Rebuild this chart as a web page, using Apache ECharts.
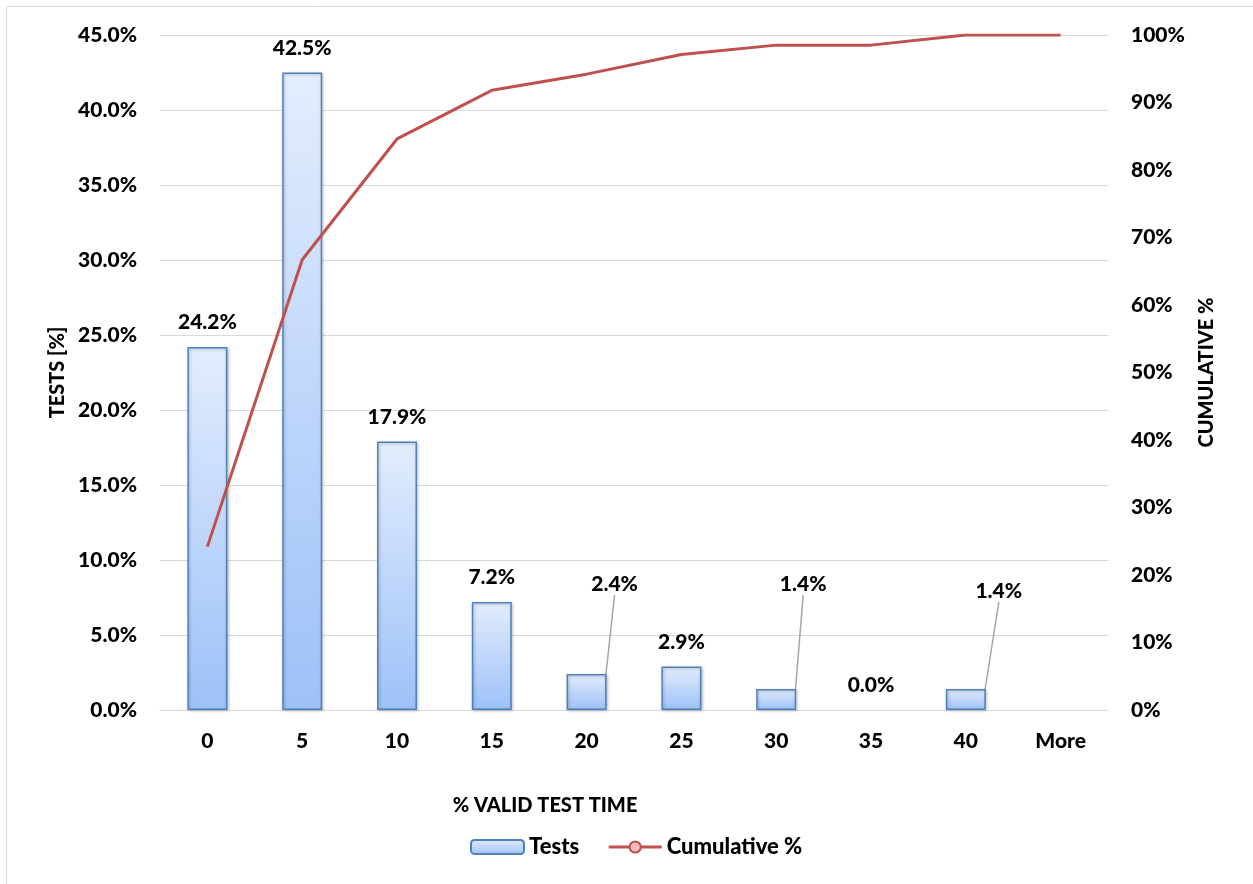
<!DOCTYPE html>
<html>
<head>
<meta charset="utf-8">
<script src="https://cdn.jsdelivr.net/npm/echarts@6/dist/echarts.min.js"></script>
<style>
  html, body { margin: 0; padding: 0; background: #ffffff; }
  #chart { width: 1253px; height: 884px; }
</style>
</head>
<body>
<div id="chart"></div>
<script>
// Histogram bins of valid test time (%)
var categories = ['0', '5', '10', '15', '20', '25', '30', '35', '40', 'More'];
// Share of tests in each bin (%)
var testsPct = [24.2, 42.5, 17.9, 7.2, 2.4, 2.9, 1.4, 0.0, 1.4, null];
// Running total of the share (%)
var cumulativePct = [24.2, 66.7, 84.6, 91.8, 94.2, 97.1, 98.5, 98.5, 100, 100];
// Left and right axis ranges
var leftTicks = { min: 0, max: 45, step: 5 };
var rightTicks = { min: 0, max: 100, step: 10 };

// Small bars whose value labels are pulled up with a leader line
var calloutOffsets = { 4: [28, -65], 6: [27, -80], 8: [33, -73] };

var FONT = 'Lato, "Open Sans", sans-serif';
var WEIGHT = 900;
var TEXT_SIZE = 21;
var barFill = new echarts.graphic.LinearGradient(0, 0, 0, 1, [
  { offset: 0, color: '#e3edfd' },
  { offset: 1, color: '#9dc1f8' }
]);

// Bar items: leader lines only on the callout labels, no outline on empty bins
var barItems = testsPct.map(function (v, i) {
  return {
    value: v,
    labelLine: { show: !!calloutOffsets[i] },
    itemStyle: v === 0 ? { borderWidth: 0, shadowBlur: 0, shadowOffsetX: 0, shadowOffsetY: 0 } : {}
  };
});

var chart = echarts.init(document.getElementById('chart'), null, { renderer: 'canvas' });

chart.setOption({
  backgroundColor: '#ffffff',
  animation: false,
  textStyle: { fontFamily: FONT },
  graphic: [{
    type: 'rect',
    shape: { x: 6.5, y: 6.5, width: 1300, height: 1000 },
    style: { fill: 'none', stroke: '#d9d9d9', lineWidth: 1 },
    silent: true
  }],
  grid: { left: 160, right: 145, top: 35, bottom: 174 },
  legend: {
    bottom: 21,
    left: 465,
    itemWidth: 53,
    itemHeight: 14,
    itemGap: 28,
    lineStyle: { width: 3 },
    textStyle: { fontFamily: FONT, fontWeight: WEIGHT, fontSize: 22, color: '#000000' },
    data: ['Tests', { name: 'Cumulative %', lineStyle: { width: 3 } }]
  },
  xAxis: {
    type: 'category',
    data: categories,
    name: '% VALID TEST TIME',
    nameLocation: 'middle',
    nameGap: 86,
    nameTextStyle: {
      fontFamily: FONT, fontWeight: WEIGHT, fontSize: 20, color: '#000000',
      padding: [0, 178, 0, 0]
    },
    axisLine: { lineStyle: { color: '#d9d9d9', width: 1 } },
    axisTick: { show: false },
    axisLabel: { margin: 21, fontFamily: FONT, fontWeight: WEIGHT, fontSize: TEXT_SIZE, color: '#000000' }
  },
  yAxis: [{
    type: 'value',
    min: leftTicks.min,
    max: leftTicks.max,
    interval: leftTicks.step,
    name: 'TESTS [%]',
    nameLocation: 'middle',
    nameGap: 91,
    nameTextStyle: { fontFamily: FONT, fontWeight: WEIGHT, fontSize: 20, color: '#000000' },
    axisLine: { show: false },
    axisTick: { show: false },
    splitLine: { lineStyle: { color: '#d9d9d9', width: 1 } },
    axisLabel: {
      margin: 23, fontFamily: FONT, fontWeight: WEIGHT, fontSize: TEXT_SIZE, color: '#000000',
      formatter: function (v) { return v.toFixed(1) + '%'; }
    }
  }, {
    type: 'value',
    min: rightTicks.min,
    max: rightTicks.max,
    interval: rightTicks.step,
    position: 'right',
    name: 'CUMULATIVE %',
    nameLocation: 'middle',
    nameGap: 89,
    nameTextStyle: { fontFamily: FONT, fontWeight: WEIGHT, fontSize: 20, color: '#000000' },
    axisLine: { show: false },
    axisTick: { show: false },
    splitLine: { show: false },
    axisLabel: {
      margin: 23, fontFamily: FONT, fontWeight: WEIGHT, fontSize: TEXT_SIZE, color: '#000000',
      formatter: function (v) { return v + '%'; }
    }
  }],
  series: [{
    name: 'Tests',
    type: 'bar',
    yAxisIndex: 0,
    barWidth: 40,
    data: barItems,
    itemStyle: {
      color: barFill,
      borderColor: '#4f81bd',
      borderWidth: 1.5,
      shadowColor: 'rgba(0,0,0,0.25)',
      shadowBlur: 3,
      shadowOffsetX: 1,
      shadowOffsetY: 1
    },
    label: {
      show: true,
      position: 'top',
      distance: 14,
      fontFamily: FONT,
      fontWeight: WEIGHT,
      fontSize: TEXT_SIZE,
      color: '#000000',
      formatter: function (p) { return p.value == null ? '' : p.value.toFixed(1) + '%'; }
    },
    labelLine: {
      lineStyle: { color: '#a6a6a6', width: 1.5 }
    },
    labelLayout: function (p) {
      var off = calloutOffsets[p.dataIndex];
      if (!off) { return {}; }
      return { dx: off[0], dy: off[1] };
    },
    z: 2
  }, {
    name: 'Cumulative %',
    type: 'line',
    yAxisIndex: 1,
    data: cumulativePct,
    showSymbol: false,
    symbol: 'circle',
    symbolSize: 13,
    color: '#c0504d',
    lineStyle: { color: '#c0504d', width: 3 },
    itemStyle: { color: '#f5bcbb', borderColor: '#c0504d', borderWidth: 1.5 },
    z: 3
  }]
});
</script>
</body>
</html>
